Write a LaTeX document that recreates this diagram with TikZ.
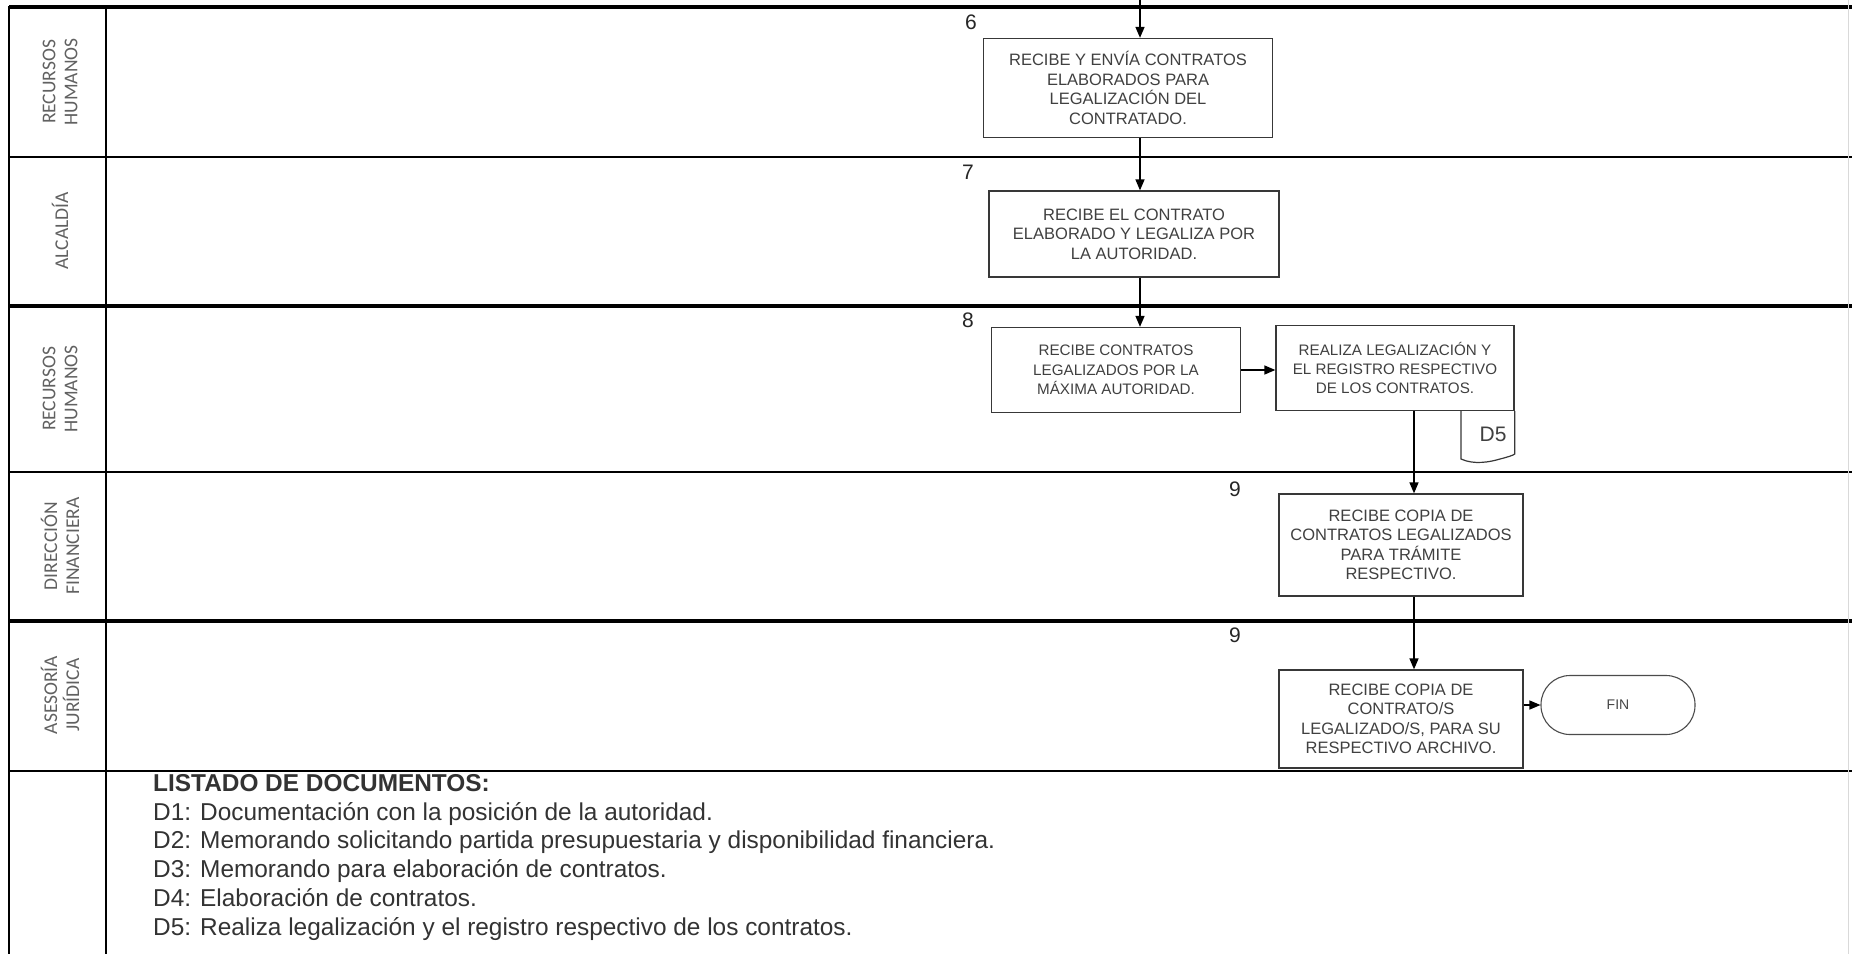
\documentclass[tikz,border=0pt]{standalone}
\usepackage{fontspec}
\setmainfont{Liberation Sans}
\newfontfamily\lanefont{Carlito}
\usetikzlibrary{arrows.meta}

\begin{document}
\begin{tikzpicture}[x=1pt,y=-1pt,
  proc/.style={draw=black!78, line width=1.3pt, fill=white, align=center,
    text=black!75, font=\fontsize{16.5}{19.4}\selectfont, inner sep=0pt},
  small/.style={font=\fontsize{15.2}{19.4}\selectfont},
  term/.style={draw=black!70, line width=1.1pt, fill=white, rounded corners=29pt,
    text=black!72, font=\fontsize{14}{14}\selectfont, inner sep=0pt},
  flow/.style={-{Triangle[length=11pt,width=9pt]}, line width=1.4pt, black},
  lane/.style={rotate=90, align=center, text=black!62,
    font=\lanefont\fontsize{19.5}{22}\selectfont, inner sep=0pt},
  stepnum/.style={text=black!85, font=\fontsize{21}{21}\selectfont, inner sep=0pt},
  heavy/.style={line width=3.2pt},
  light/.style={line width=2.2pt},
]
% canvas
\fill[white] (0,0) rectangle (1852,954);
\useasboundingbox (0,0) rectangle (1852,954);

% swimlane grid
\draw[heavy] (9,7) -- (1852,7);
\draw[light] (9,157) -- (1852,157);
\draw[heavy] (9,306) -- (1852,306);
\draw[light] (9,472) -- (1852,472);
\draw[heavy] (9,621) -- (1852,621);
\draw[light] (9,771) -- (1852,771);
\draw[line width=2pt] (9,6) -- (9,954);
\draw[line width=2pt] (106,6) -- (106,954);
\draw[black!15, line width=1pt] (1848,0) -- (1848,954);

% lane names
\node[lane] (l1) at (60,82)  {RECURSOS\\HUMANOS};
\node[lane] (l2) at (60,231) {ALCALDÍA};
\node[lane] (l3) at (60,389) {RECURSOS\\HUMANOS};
\node[lane] (l4) at (60,546) {DIRECCIÓN\\FINANCIERA};
\node[lane] (l5) at (60,695) {ASESORÍA\\JURÍDICA};

% process steps
\node[proc, minimum width=289pt, minimum height=99pt] (b6) at (1128,88)
  {RECIBE Y ENVÍA CONTRATOS\\ELABORADOS PARA\\LEGALIZACIÓN DEL\\CONTRATADO.};
\node[proc, minimum width=290pt, minimum height=86pt] (b7) at (1134,234)
  {RECIBE EL CONTRATO\\ELABORADO Y LEGALIZA POR\\LA AUTORIDAD.};
\node[proc, small, minimum width=249pt, minimum height=85pt] (b8a) at (1116,370)
  {RECIBE CONTRATOS\\LEGALIZADOS POR LA\\MÁXIMA AUTORIDAD.};
\node[proc, small, minimum width=238pt, minimum height=85pt] (b8b) at (1395,368)
  {REALIZA LEGALIZACIÓN Y\\EL REGISTRO RESPECTIVO\\DE LOS CONTRATOS.};
\node[proc, minimum width=244pt, minimum height=102pt] (b9a) at (1401,545)
  {RECIBE COPIA DE\\CONTRATOS LEGALIZADOS\\PARA TRÁMITE\\RESPECTIVO.};
\node[proc, minimum width=244pt, minimum height=98pt] (b9b) at (1401,719)
  {RECIBE COPIA DE\\CONTRATO/S\\LEGALIZADO/S, PARA SU\\RESPECTIVO ARCHIVO.};
\node[term, minimum width=154pt, minimum height=59pt] (fin) at (1618,705) {FIN};

% document D5 hanging below step 8
\coordinate (d5a) at (1461,411);
\draw[black!78, line width=1.2pt, fill=white]
  (d5a) -- (1461,459) .. controls (1474,465) and (1490,462) .. (1500,459)
  .. controls (1508,457) and (1514,455) .. (b8b.south east |- 0,454) -- (b8b.south east);
\node[text=black!75, font=\fontsize{21}{21}\selectfont] (d5) at (1493,434) {D5};

% step numbers
\node[stepnum] (n6) at (971,22)  {6};
\node[stepnum] (n7) at (968,172) {7};
\node[stepnum] (n8) at (968,320) {8};
\node[stepnum] (n9a) at (1235,489) {9};
\node[stepnum] (n9b) at (1235,635) {9};

% connectors
\coordinate (in6) at (1140,0);
\coordinate (col9) at (1414,0);
\draw[flow] (in6) -- (in6 |- b6.north);
\draw[flow] (b6.south -| in6) -- (b7.north -| in6);
\draw[flow] (b7.south -| in6) -- (b8a.north -| in6);
\draw[flow] (b8a.east |- 0,370) -- (b8b.west |- 0,370);
\draw[flow] (b8b.south -| col9) -- (b9a.north -| col9);
\draw[flow] (b9a.south -| col9) -- (b9b.north -| col9);
\draw[flow] (b9b.east |- fin.west) -- (fin.west);

% list of documents
\node[anchor=north west, align=left, text=black!80, inner sep=0pt,
  font=\fontsize{24.4}{28.8}\selectfont] (docs) at (153,774)
  {\textbf{LISTADO DE DOCUMENTOS:}\\
   D1: Documentación con la posición de la autoridad.\\
   D2: Memorando solicitando partida presupuestaria y disponibilidad financiera.\\
   D3: Memorando para elaboración de contratos.\\
   D4: Elaboración de contratos.\\
   D5: Realiza legalización y el registro respectivo de los contratos.};
\end{tikzpicture}
\end{document}
